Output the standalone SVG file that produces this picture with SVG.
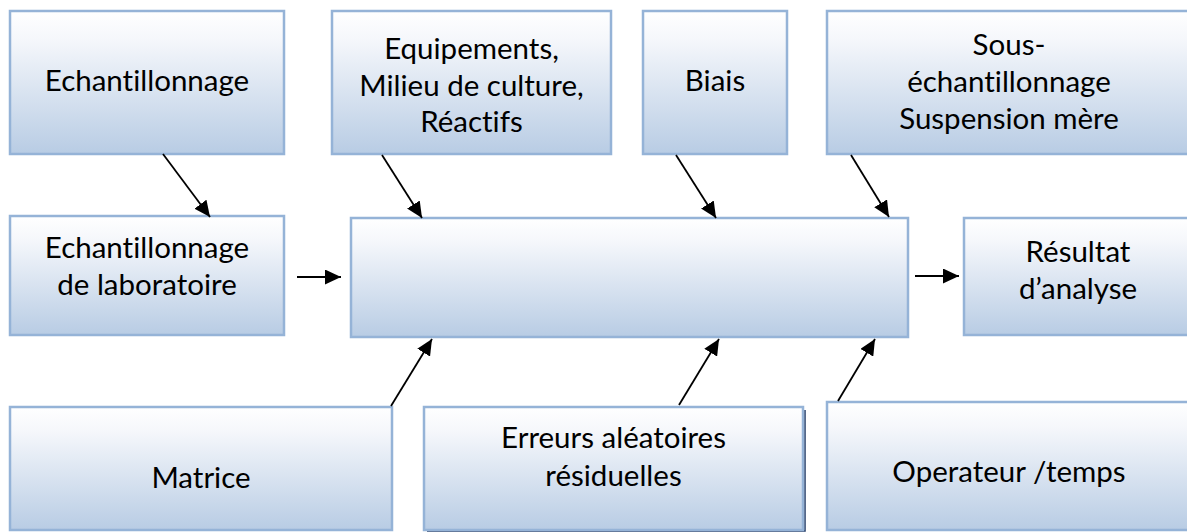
<svg xmlns="http://www.w3.org/2000/svg" width="1187" height="532" viewBox="0 0 1187 532">
  <defs>
    <linearGradient id="boxFill" x1="0" y1="0" x2="0" y2="1">
      <stop offset="0" stop-color="#ffffff"/>
      <stop offset="0.2" stop-color="#f5f7fb"/>
      <stop offset="1" stop-color="#b8cce4"/>
    </linearGradient>
    <marker id="arrow" markerUnits="userSpaceOnUse" markerWidth="16" markerHeight="15" viewBox="0 0 16 15" refX="16" refY="7.5" orient="auto">
      <path d="M0,0 L16,7.5 L0,15 Z" fill="#000000"/>
    </marker>
  </defs>
  <style>
    .box { fill: url(#boxFill); stroke: #95b3d7; stroke-width: 2.5; }
    .lbl { font-family: Lato, "Liberation Sans", sans-serif; font-size: 29.5px; fill: #000000; text-anchor: middle; font-variant-ligatures: none; font-feature-settings: "liga" 0; }
    .conn { stroke: #000000; stroke-width: 1.8; fill: none; marker-end: url(#arrow); }
  </style>
  <rect width="1187" height="532" fill="#ffffff"/>

  <g id="node-echantillonnage">
    <rect class="box" x="10" y="11" width="274" height="143"/>
    <text class="lbl" x="147" y="91">Echantillonnage</text>
  </g>
  <g id="node-equipements">
    <rect class="box" x="332" y="11" width="279" height="143"/>
    <text class="lbl" x="471.5" y="59">Equipements,</text>
    <text class="lbl" x="471.5" y="96">Milieu de culture,</text>
    <text class="lbl" x="471.5" y="132">Réactifs</text>
  </g>
  <g id="node-biais">
    <rect class="box" x="643" y="11" width="144" height="143"/>
    <text class="lbl" x="715" y="91">Biais</text>
  </g>
  <g id="node-sous-echantillonnage">
    <rect class="box" x="827" y="11" width="366" height="143"/>
    <text class="lbl" x="1009" y="55">Sous-</text>
    <text class="lbl" x="1009" y="92">échantillonnage</text>
    <text class="lbl" x="1009" y="129">Suspension mère</text>
  </g>
  <g id="node-labo">
    <rect class="box" x="10" y="216" width="274" height="119"/>
    <text class="lbl" x="147" y="258">Echantillonnage</text>
    <text class="lbl" x="147" y="295">de laboratoire</text>
  </g>
  <g id="node-central">
    <rect class="box" x="351" y="218" width="557" height="119"/>
  </g>
  <g id="node-resultat">
    <rect class="box" x="964" y="218" width="230" height="117"/>
    <text class="lbl" x="1078" y="262">Résultat</text>
    <text class="lbl" x="1078" y="299">d’analyse</text>
  </g>
  <g id="node-matrice">
    <rect class="box" x="10" y="407" width="382" height="123"/>
    <text class="lbl" x="201" y="488">Matrice</text>
  </g>
  <g id="node-erreurs">
    <path d="M805,410 L805,531 L427,531" stroke="#1f3864" stroke-width="1.5" fill="none"/>
    <rect class="box" x="424" y="407" width="379" height="123"/>
    <text class="lbl" x="613.5" y="448">Erreurs aléatoires</text>
    <text class="lbl" x="613.5" y="486">résiduelles</text>
  </g>
  <g id="node-operateur">
    <rect class="box" x="827" y="402" width="366" height="128"/>
    <text class="lbl" x="1009" y="482">Operateur /temps</text>
  </g>

  <g id="connectors">
    <line class="conn" x1="163" y1="154" x2="210" y2="217"/>
    <line class="conn" x1="382" y1="155" x2="422" y2="218"/>
    <line class="conn" x1="676" y1="155" x2="716" y2="218"/>
    <line class="conn" x1="851" y1="155" x2="889" y2="217"/>
    <line class="conn" x1="297" y1="277" x2="341" y2="277"/>
    <line class="conn" x1="915" y1="276" x2="959" y2="276"/>
    <line class="conn" x1="391" y1="406" x2="432" y2="339"/>
    <line class="conn" x1="679" y1="405" x2="719" y2="339"/>
    <line class="conn" x1="838" y1="401" x2="875" y2="339"/>
  </g>
</svg>
